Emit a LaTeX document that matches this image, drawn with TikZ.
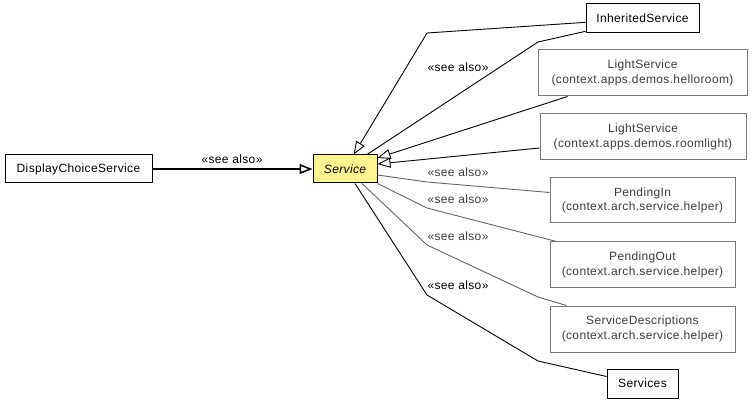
\documentclass[tikz,border=0pt]{standalone}
\usepackage{fontspec}
\setmainfont{Liberation Sans}
\usetikzlibrary{arrows.meta}
\definecolor{svcfill}{RGB}{255,244,143}
\definecolor{boxgray}{RGB}{120,120,120}
\definecolor{txtgray}{RGB}{60,60,60}
\definecolor{linegray}{RGB}{100,100,100}
\begin{document}
\begin{tikzpicture}[x=1pt,y=-1pt]
        \tikzstyle{every node}=[font=\fontsize{12}{14.5}\selectfont\addfontfeatures{LetterSpace=3},inner sep=0pt,align=center]
        \tikzstyle{cls}=[draw=black,line width=1pt,fill=white]
        \tikzstyle{ext}=[draw=boxgray,line width=1pt,fill=white,text=txtgray]
        \tikzstyle{inherit}=[draw=black,line width=0.9pt,-{Triangle[open,length=13pt,width=10pt]}]
        \tikzstyle{seealso}=[draw=black,line width=0.9pt]
        \tikzstyle{extline}=[draw=linegray,line width=0.9pt]
        \useasboundingbox (0,0) rectangle (752,403);

            \node[cls,minimum width=147pt,minimum height=28pt] (disp) at (78.5,169) {DisplayChoiceService};
            \node[cls,fill=svcfill,minimum width=64pt,minimum height=28pt] (svc) at (345,169) {\itshape Service};
            \node[cls,minimum width=113pt,minimum height=29pt] (inh) at (642.5,18.5) {InheritedService};
            \node[ext,minimum width=209pt,minimum height=46pt] (lhello) at (642.5,73) {LightService\\(context.apps.demos.helloroom)};
            \node[ext,minimum width=206pt,minimum height=46pt] (lroom) at (643,137) {LightService\\(context.apps.demos.roomlight)};
            \node[ext,minimum width=185pt,minimum height=45pt] (pin) at (642.5,200.5) {PendingIn\\(context.arch.service.helper)};
            \node[ext,minimum width=185pt,minimum height=46pt] (pout) at (642.5,265) {PendingOut\\(context.arch.service.helper)};
            \node[ext,minimum width=185pt,minimum height=46pt] (sdesc) at (642.5,329) {ServiceDescriptions\\(context.arch.service.helper)};
            \node[cls,minimum width=71pt,minimum height=29pt] (svcs) at (642.5,383.5) {Services};

            \node (l1) at (232,159) {«see also»};
            \node (l2) at (458,67) {«see also»};
            \node[text=txtgray] (l3) at (458,172) {«see also»};
            \node[text=txtgray] (l4) at (458,199) {«see also»};
            \node[text=txtgray] (l5) at (458,236) {«see also»};
            \node (l6) at (458,285) {«see also»};

            \draw[inherit,line width=1.6pt] (disp) -- (svc);
            \draw[inherit] (inh) -- (427,33) -- (svc);
            \draw[seealso] (inh) -- (538,42) -- (svc);
            \draw[inherit] ([xshift=30pt]lhello.south west) -- ([yshift=11pt]svc.east);
            \draw[inherit] ([yshift=-11pt]lroom.west) -- ([yshift=5pt]svc.east);
            \draw[extline] ([yshift=-6pt]svc.east) -- (427,182) -- ([yshift=8pt]pin.west);
            \draw[extline] (svc.south east) -- (427,208) -- ([xshift=7pt]pout.north west);
            \draw[extline] ([xshift=17pt]svc.south) -- (427,245) -- (538,297) -- ([xshift=17pt]sdesc.north west);
            \draw[seealso] ([xshift=10pt]svc.south) -- (427,295) -- (538,361) -- ([yshift=7pt]svcs.west);
        \end{tikzpicture}
\end{document}
